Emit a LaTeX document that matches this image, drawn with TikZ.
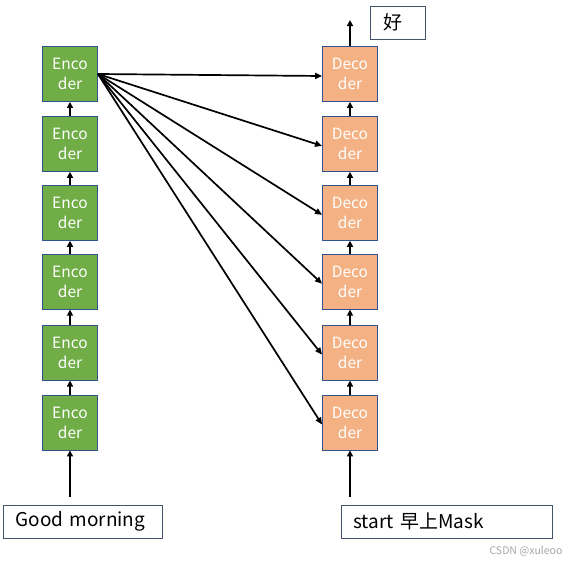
\documentclass[tikz,border=0pt]{standalone}
\usepackage{fontspec}
\setmainfont{Noto Sans CJK SC}
\usetikzlibrary{arrows.meta,positioning}
\definecolor{encfill}{RGB}{112,173,71}
\definecolor{decfill}{RGB}{244,177,131}
\definecolor{boxline}{RGB}{47,82,143}
\definecolor{txtline}{RGB}{68,84,106}
\tikzset{
  enc/.style={draw=boxline, line width=0.9pt, fill=encfill, align=center, text=white,
    minimum width=55pt, minimum height=55pt, inner sep=0pt,
    font=\fontsize{15.5}{20}\selectfont},
  dec/.style={enc, fill=decfill},
  word/.style={draw=txtline, line width=0.9pt, fill=white, anchor=west, inner sep=0pt,
    minimum height=33pt, font=\fontsize{19}{22}\selectfont},
  up/.style={draw=black, line width=1.7pt, -{Triangle[length=6pt,width=6pt]}},
  fan/.style={draw=black, line width=1.7pt, -{Triangle[length=7pt,width=6pt]}}
}
\begin{document}
\begin{tikzpicture}[x=1pt, y=-1pt, node distance=14pt]
  \useasboundingbox (0,0) rectangle (570,565);
  % encoder column
  \node[enc] (e6) at (70,74) {Enco\\der};
  \node[enc, below=of e6] (e5) {Enco\\der};
  \node[enc, below=13pt of e5] (e4) {Enco\\der};
  \node[enc, below=13pt of e4] (e3) {Enco\\der};
  \node[enc, below=15pt of e3] (e2) {Enco\\der};
  \node[enc, below=of e2] (e1) {Enco\\der};
  % decoder column
  \node[dec] (d6) at (350,74) {Deco\\der};
  \node[dec, below=of d6] (d5) {Deco\\der};
  \node[dec, below=13pt of d5] (d4) {Deco\\der};
  \node[dec, below=13pt of d4] (d3) {Deco\\der};
  \node[dec, below=15pt of d3] (d2) {Deco\\der};
  \node[dec, below=of d2] (d1) {Deco\\der};
  % inputs and output
  \node[word, minimum width=159pt, text width=151pt] (gm) at (3,521.5) {\hspace*{8pt}Good morning};
  \node[word, minimum width=211pt, text width=203pt] (st) at (341,521.5) {\hspace*{8pt}start 早上Mask};
  \node[word, minimum width=55pt, text width=47pt] (hao) at (370,22.5) {\hspace*{9pt}好};
  \coordinate[above=26pt of d6.north] (outtip);
  \node[text=gray!70, font=\fontsize{10.5}{12}\selectfont, anchor=east] (mark) at (566,551) {CSDN @xuleoo};

  \draw[up, shorten <=8pt] (e1 |- gm.north) -- (e1);
  \draw[up, shorten <=8pt] (d1 |- st.north) -- (d1);
  \foreach \a/\b in {e1/e2,e2/e3,e3/e4,e4/e5,e5/e6,d1/d2,d2/d3,d3/d4,d4/d5,d5/d6}
    \draw[up] (\a) -- (\b);
  \draw[up] (d6) -- (outtip);
  \foreach \d in {d6,d5,d4,d3,d2,d1}
    \draw[fan] (e6.east) -- ([yshift=-2pt]\d.west);
\end{tikzpicture}
\end{document}
